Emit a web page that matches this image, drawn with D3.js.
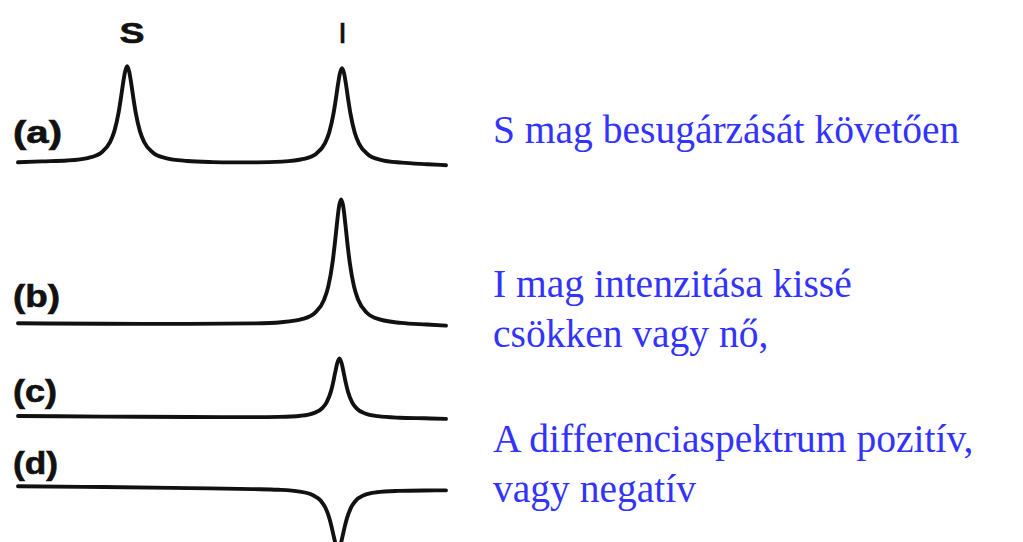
<!DOCTYPE html>
<html>
<head>
<meta charset="utf-8">
<script src="https://cdn.jsdelivr.net/npm/d3@7"></script>
<style>
  html, body { margin: 0; padding: 0; background: #ffffff; }
  svg { display: block; }
</style>
</head>
<body>
<svg id="chart" width="1023" height="542"></svg>
<script>
// Spectrum traces: [frequency (arbitrary units 0-100), intensity]
const traceA = [
  [0, 0], [5.5, 0.010], [11.5, 0.019], [16.5, 0.047], [19.5, 0.103], [21.5, 0.21],
  [22.5, 0.322], [23.5, 0.517], [24, 0.655], [24.5, 0.808], [25, 0.939], [25.5, 1.0],
  [26, 0.939], [26.5, 0.808], [27, 0.655], [27.5, 0.517], [28.5, 0.322], [29.5, 0.209],
  [31.5, 0.102], [34.5, 0.044], [39.5, 0.014], [45.5, 0.002], [50, -0.001],
  [55.7, -0.001], [61.7, 0.007], [66.7, 0.035], [69.7, 0.090], [71.7, 0.197],
  [72.7, 0.309], [73.7, 0.504], [74.2, 0.64], [74.7, 0.793], [75.2, 0.924], [75.7, 0.98],
  [76.2, 0.924], [76.7, 0.792], [77.2, 0.638], [77.7, 0.501], [78.7, 0.305], [79.7, 0.192],
  [81.7, 0.084], [84.7, 0.026], [89.7, -0.004], [95.7, -0.020], [100, -0.030]
];
const traceB = [
  [0, 0], [20, -0.005], [40, -0.006], [55.5, -0.001], [61.5, 0.011], [66.5, 0.045],
  [69.5, 0.114], [71.5, 0.244], [72.5, 0.385], [73.5, 0.637], [74, 0.82], [74.5, 1.029],
  [75, 1.214], [75.5, 1.29], [76, 1.214], [76.5, 1.028], [77, 0.819], [77.5, 0.636],
  [78.5, 0.384], [79.5, 0.242], [81.5, 0.11], [84.5, 0.04], [89.5, 0.004],
  [95.5, -0.013], [100, -0.024]
];
const traceC = [
  [0, 0], [20, -0.006], [40, -0.011], [55.1, -0.012], [61.1, -0.009], [66.1, 0.003],
  [69.1, 0.030], [71.1, 0.082], [72.1, 0.142], [73.1, 0.254], [73.6, 0.343], [74.1, 0.451],
  [74.6, 0.552], [75.1, 0.6], [75.6, 0.552], [76.1, 0.450], [76.6, 0.342], [77.1, 0.253],
  [78.1, 0.140], [79.1, 0.080], [81.1, 0.026], [84.1, -0.002], [89.1, -0.018],
  [95.1, -0.024], [100, -0.030]
];
const traceD = [
  [0, 0], [20, -0.008], [40, -0.019], [54.8, -0.029], [60.8, -0.036], [65.8, -0.055],
  [68.8, -0.091], [70.8, -0.154], [71.8, -0.221], [72.8, -0.341], [73.3, -0.428],
  [73.8, -0.527], [74.3, -0.614], [74.8, -0.651], [75.3, -0.614], [75.8, -0.527],
  [76.3, -0.428], [76.8, -0.342], [77.8, -0.222], [78.8, -0.155], [80.8, -0.093],
  [83.8, -0.062], [88.8, -0.048], [94.8, -0.043], [100, -0.042]
];

const traces = [traceA, traceB, traceC, traceD];
const rowLabels = ["(a)", "(b)", "(c)", "(d)"];

// Peak assignments shown above the top spectrum
const peakLabels = ["S", "I"];
const peakPositions = [25.5, 75.7];

// Explanatory text beside the spectra
const captionLines = [
  "S mag besugárzását követően",
  "I mag intenzitása kissé",
  "csökken vagy nő,",
  "A differenciaspektrum pozitív,",
  "vagy negatív"
];

// ---- layout ----
const W = 1023, H = 542;
const plotLeft = 18, plotRight = 446;
const unitPx = 96;                          // pixels per intensity unit
const rowBaselines = [162.3, 323.3, 416, 486.3];
const rowLabelBaselines = [143, 307, 402, 474];
const rowLabelWidths = [49, 47, 44, 45];
const peakLabelWidths = [25, 6];
const peakLabelNudge = [5, 0.5];
const captionBaselines = [143, 297, 347, 452, 502];

const svg = d3.select("#chart");
svg.append("rect").attr("width", W).attr("height", H).attr("fill", "#ffffff");

const x = d3.scaleLinear().domain([0, 100]).range([plotLeft, plotRight]);

traces.forEach((tr, i) => {
  const y = d3.scaleLinear().domain([0, 1]).range([rowBaselines[i], rowBaselines[i] - unitPx]);
  const line = d3.line()
    .x(d => x(d[0]))
    .y(d => y(d[1]))
    .curve(d3.curveMonotoneX);
  svg.append("path")
    .datum(tr)
    .attr("d", line)
    .attr("fill", "none")
    .attr("stroke", "#111111")
    .attr("stroke-width", 3.9)
    .attr("stroke-linejoin", "round")
    .attr("stroke-linecap", "round");
});

// Row labels (a)-(d)
svg.selectAll("text.row")
  .data(rowLabels)
  .join("text")
  .attr("class", "row")
  .attr("x", 13)
  .attr("y", (d, i) => rowLabelBaselines[i])
  .attr("textLength", (d, i) => rowLabelWidths[i])
  .attr("lengthAdjust", "spacingAndGlyphs")
  .attr("font-family", "Liberation Sans, Arial, sans-serif")
  .attr("font-weight", "bold")
  .attr("font-size", 31)
  .attr("fill", "#111111")
  .attr("stroke", "#111111")
  .attr("stroke-width", 0.6)
  .text(d => d);

// Peak labels S and I
svg.selectAll("text.peak")
  .data(peakLabels)
  .join("text")
  .attr("class", "peak")
  .attr("x", (d, i) => x(peakPositions[i]) + peakLabelNudge[i] - peakLabelWidths[i] / 2)
  .attr("y", 42.5)
  .attr("textLength", (d, i) => peakLabelWidths[i])
  .attr("lengthAdjust", "spacingAndGlyphs")
  .attr("font-family", "Liberation Sans, Arial, sans-serif")
  .attr("font-weight", "bold")
  .attr("font-size", 29)
  .attr("fill", "#111111")
  .attr("stroke", "#111111")
  .attr("stroke-width", 0.6)
  .text(d => d);

// Caption text
svg.selectAll("text.caption")
  .data(captionLines)
  .join("text")
  .attr("class", "caption")
  .attr("x", 493)
  .attr("y", (d, i) => captionBaselines[i])
  .attr("font-family", "Liberation Serif, Times New Roman, serif")
  .attr("font-size", 39.5)
  .attr("fill", "#3333ff")
  .text(d => d);
</script>
</body>
</html>
